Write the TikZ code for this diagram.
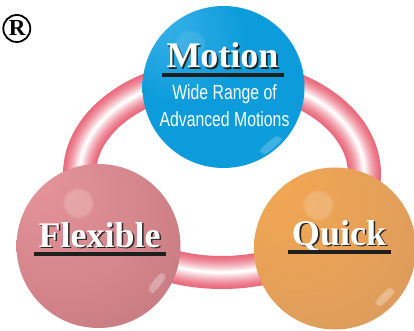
\documentclass[tikz,border=0pt]{standalone}
\usepackage{fontspec}
\setmainfont{Liberation Serif}
\newfontfamily\narrowsans[FakeStretch=0.77]{Liberation Sans}
\usetikzlibrary{fadings}
\definecolor{ringpink}{HTML}{EA6A7D}
\definecolor{blueA}{HTML}{3AB2E8}
\definecolor{blueB}{HTML}{0C9CDB}
\definecolor{blueC}{HTML}{0A93D2}
\definecolor{pinkA}{HTML}{E6959A}
\definecolor{pinkB}{HTML}{D4868C}
\definecolor{pinkC}{HTML}{C1757C}
\definecolor{orA}{HTML}{F2A852}
\definecolor{orB}{HTML}{E6A058}
\definecolor{orC}{HTML}{D69A60}
\pgfdeclareradialshading{bluesph}{\pgfpoint{-20bp}{22bp}}{color(0bp)=(blueA); color(20bp)=(blueB); color(44bp)=(blueB); color(50bp)=(blueC); color(60bp)=(blueC)}
\pgfdeclareradialshading{pinksph}{\pgfpoint{-20bp}{22bp}}{color(0bp)=(pinkA); color(25bp)=(pinkB); color(46bp)=(pinkC); color(60bp)=(pinkC)}
\pgfdeclareradialshading{orsph}{\pgfpoint{-20bp}{22bp}}{color(0bp)=(orA); color(25bp)=(orB); color(46bp)=(orC); color(60bp)=(orC)}
\tikzset{
  titletext/.style={anchor=base, inner sep=0pt, text=white, font=\fontsize{36}{36}\selectfont\bfseries},
  subtext/.style={anchor=base, inner sep=0pt, text=white, font=\fontsize{20.5}{20.5}\selectfont\narrowsans},
  spot/.style={fill=white, path fading=circle with fuzzy edge 20 percent},
}
\newcommand{\shadowtitle}[4]{%
  \node[titletext] (#3) at (#1,#2) {\rlap{\kern1.6pt\raisebox{-1.6pt}{\color{black!85}#4}}#4};
  \fill[black!88] ([xshift=-4pt,yshift=-5pt]#3.base west) rectangle ([xshift=5pt,yshift=-9pt]#3.base east);
}
\begin{document}
\begin{tikzpicture}[x=1pt,y=-1pt]
\useasboundingbox (0,0) rectangle (414,331);
% ring
\coordinate (ringc) at (222,174);
\foreach \i in {0,...,20}{
  \pgfmathsetmacro\w{33*(1-\i/21)}
  \pgfmathsetmacro\p{100*(\i/20)^1.4}
  \draw[line width=\w pt, color=white!\p!ringpink] (ringc) ellipse [x radius=142.5pt, y radius=98.5pt];
}
% spheres
\coordinate (cb) at (223.5,87);
\coordinate (cp) at (98.5,246);
\coordinate (co) at (335,248.5);
\shade[shading=pinksph] (cp) circle [radius=82pt];
\shade[shading=orsph] (co) circle [radius=81pt];
\shade[shading=bluesph] (cb) circle [radius=81pt];
% highlight spots
\fill[spot, fill opacity=0.2] (78,203) circle [radius=16pt];
\fill[spot, fill opacity=0.18] (318,205) circle [radius=16pt];
\fill[spot, fill opacity=0.1] (190,45) circle [radius=16pt];
% specular streaks
\fill[spot, fill opacity=0.3, rotate around={52:(157,283)}] (157,283) ellipse [x radius=16pt, y radius=4pt];
\fill[spot, fill opacity=0.3, rotate around={45:(385,297)}] (385,297) ellipse [x radius=16pt, y radius=4pt];
\fill[spot, fill opacity=0.22, rotate around={40:(271,145)}] (271,145) ellipse [x radius=18pt, y radius=4pt];
% texts
\shadowtitle{222.5}{68}{tmotion}{Motion}
\node[subtext] (wide) at (224.5,100) {Wide Range of};
\node[subtext] (adv) at (224.5,127) {Advanced Motions};
\shadowtitle{99.5}{247}{tflex}{Flexible}
\shadowtitle{339}{245}{tquick}{Quick}
% registered mark
\node[draw, circle, line width=1.8pt, minimum size=27pt, inner sep=0pt] (reg) at (16.8,28.5) {};
\node[anchor=base, inner sep=0pt, font=\fontsize{23}{23}\selectfont\bfseries] (regR) at (17.2,36) {R};
\end{tikzpicture}
\end{document}
